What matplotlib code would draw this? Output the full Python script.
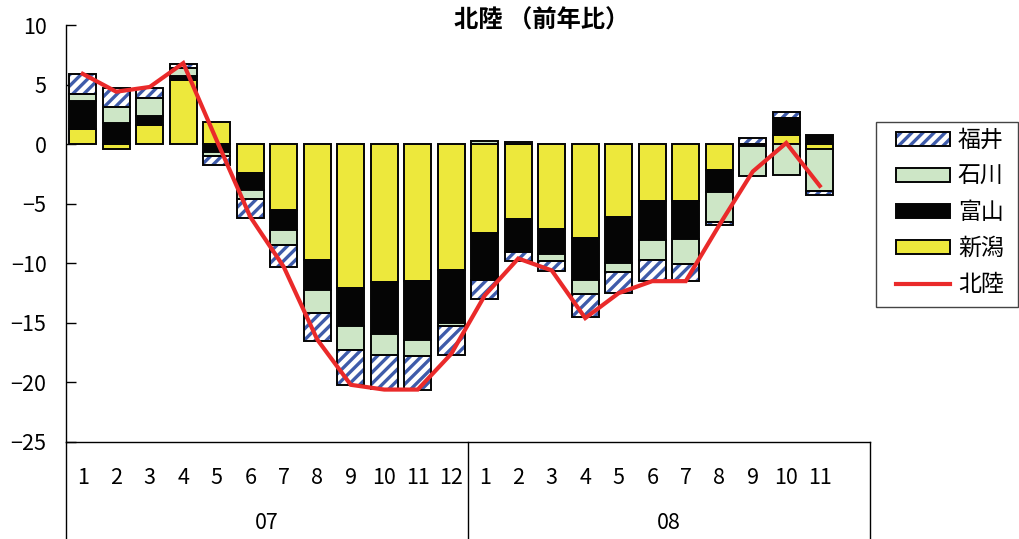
import matplotlib
matplotlib.use("Agg")
import matplotlib.pyplot as plt
import numpy as np
from matplotlib.patches import Patch, Rectangle
from matplotlib.lines import Line2D
from matplotlib.legend_handler import HandlerTuple

plt.rcParams['font.family'] = ['Noto Sans CJK JP', 'DejaVu Sans']
plt.rcParams['hatch.linewidth'] = 2.4
plt.rcParams['axes.unicode_minus'] = True

# ---- data (前年比, %) ----
years = ["07", "08"]
months_07 = ["1", "2", "3", "4", "5", "6", "7", "8", "9", "10", "11", "12"]
months_08 = ["1", "2", "3", "4", "5", "6", "7", "8", "9", "10", "11"]

niigata = [1.27, -0.40, 1.63, 5.37, 1.88, -2.41, -5.56, -9.74, -12.10, -11.60, -11.47, -10.58,
           -7.43, -6.26, -7.09, -7.87, -6.12, -4.78, -4.78, -2.16, 0.00, 0.79, -0.40]
toyama = [2.37, 1.74, 0.75, 0.36, -0.68, -1.48, -1.67, -2.51, -3.16, -4.33, -4.96, -4.45,
          -3.98, -2.79, -2.15, -3.54, -3.82, -3.29, -3.15, -1.87, -0.15, 1.40, 0.77]
ishikawa = [0.56, 1.40, 1.48, 0.70, -0.28, -0.75, -1.26, -1.90, -2.06, -1.75, -1.39, -0.27,
            0.30, 0.15, -0.56, -1.20, -0.78, -1.62, -2.09, -2.51, -2.55, -2.63, -3.55]
fukui = [1.67, 1.56, 0.84, 0.30, -0.78, -1.53, -1.81, -2.35, -2.88, -2.87, -2.78, -2.38,
         -1.62, -0.78, -0.83, -1.87, -1.81, -1.78, -1.48, -0.26, 0.50, 0.47, -0.35]
hokuriku = [5.9, 4.4, 4.8, 6.8, 0.3, -6.1, -10.3, -16.4, -20.2, -20.6, -20.6, -17.6,
            -12.7, -9.6, -10.6, -14.6, -12.5, -11.5, -11.5, -6.8, -2.3, 0.1, -3.5]

series_names = ["新潟", "富山", "石川", "福井"]
series_vals = [niigata, toyama, ishikawa, fukui]

YELLOW = "#EDE83C"
GREEN = "#CDE6C6"
BLACK = "#050505"
HATCH_BLUE = "#3E5BAA"
RED = "#EA2A2A"

W, H = 1019, 539
fig = plt.figure(figsize=(W / 100, H / 100), dpi=100)
ax_l, ax_r, ax_t, ax_b = 66, 870, 25, 442
ax = fig.add_axes([ax_l / W, 1 - ax_b / H, (ax_r - ax_l) / W, (ax_b - ax_t) / H])

n_slots = 24
n = len(hokuriku)
x = np.arange(n) + 0.5
bw = 0.8

pos_base = np.zeros(n)
neg_base = np.zeros(n)
for name, vals in zip(series_names, series_vals):
    v = np.array(vals, dtype=float)
    base = np.where(v >= 0, pos_base, neg_base)
    if name == "福井":
        ax.bar(x, v, bw, bottom=base, facecolor="white", edgecolor=HATCH_BLUE,
               hatch="///", linewidth=0, zorder=2)
        ax.bar(x, v, bw, bottom=base, fill=False, edgecolor=BLACK, linewidth=1.4, zorder=3)
    else:
        color = {"新潟": YELLOW, "富山": BLACK, "石川": GREEN}[name]
        ax.bar(x, v, bw, bottom=base, color=color, edgecolor=BLACK, linewidth=1.4, zorder=3)
    pos_base = pos_base + np.where(v >= 0, v, 0)
    neg_base = neg_base + np.where(v < 0, v, 0)

ax.plot(x, hokuriku, color=RED, linewidth=3.0, zorder=4, solid_joinstyle="miter")

ax.set_xlim(0, n_slots)
ax.set_ylim(-25, 10)
ax.set_yticks(np.arange(-25, 11, 5))
ax.set_yticklabels([f"{t}".replace("-", "\u2212") for t in range(-25, 11, 5)], fontsize=15.5)
ax.tick_params(axis="y", direction="in", length=7, width=1, pad=14)
ax.set_xticks([])
for s in ["top", "right"]:
    ax.spines[s].set_visible(False)
ax.spines["left"].set_linewidth(1)
ax.spines["bottom"].set_linewidth(1)

# category labels below the axis
xt = ax.get_xaxis_transform()
ax_h = ax_b - ax_t
y_month = -(478 - ax_b) / ax_h
y_year = -(523 - ax_b) / ax_h
y_end = -(H - ax_b) / ax_h
months = months_07 + months_08
for xi, m in zip(x, months):
    ax.text(xi, y_month, m, transform=xt, ha="center", va="center", fontsize=15.5)
ax.text(6, y_year, years[0], transform=xt, ha="center", va="center", fontsize=15.5)
ax.text(18, y_year, years[1], transform=xt, ha="center", va="center", fontsize=15.5)
for xs in [0, 12, 24]:
    ax.plot([xs, xs], [0, y_end], transform=xt, color="black", linewidth=1, clip_on=False)

fig.text(542 / W, 1 - 21 / H, "北陸 （前年比）", ha="center", va="center", fontsize=17.5,
         fontweight="bold")

# legend: frame drawn separately so the box can be wider than its contents
fig.add_artist(Rectangle((876 / W, 1 - 307 / H), (1018 - 876) / W, (307 - 122) / H,
                         transform=fig.transFigure, facecolor="white",
                         edgecolor="#444444", linewidth=1, zorder=5))
handles = [
    (Patch(facecolor="white", edgecolor=HATCH_BLUE, hatch="///", linewidth=0),
     Patch(fill=False, edgecolor=BLACK, linewidth=1.4)),
    Patch(facecolor=GREEN, edgecolor=BLACK, linewidth=1.4),
    Patch(facecolor=BLACK, edgecolor=BLACK, linewidth=1.4),
    Patch(facecolor=YELLOW, edgecolor=BLACK, linewidth=1.4),
    Line2D([], [], color=RED, linewidth=3.0),
]
labels = ["福井", "石川", "富山", "新潟", "北陸"]
leg = fig.legend(handles, labels, loc="upper left", bbox_to_anchor=(896 / W, 1 - 129 / H),
                 handler_map={tuple: HandlerTuple(ndivide=1, pad=0)},
                 prop={"size": 16.5}, frameon=False,
                 handlelength=2.35, handleheight=0.6, handletextpad=0.35,
                 labelspacing=0.57, borderpad=0, borderaxespad=0)
leg.set_zorder(6)

fig.savefig("out.png", dpi=100)
